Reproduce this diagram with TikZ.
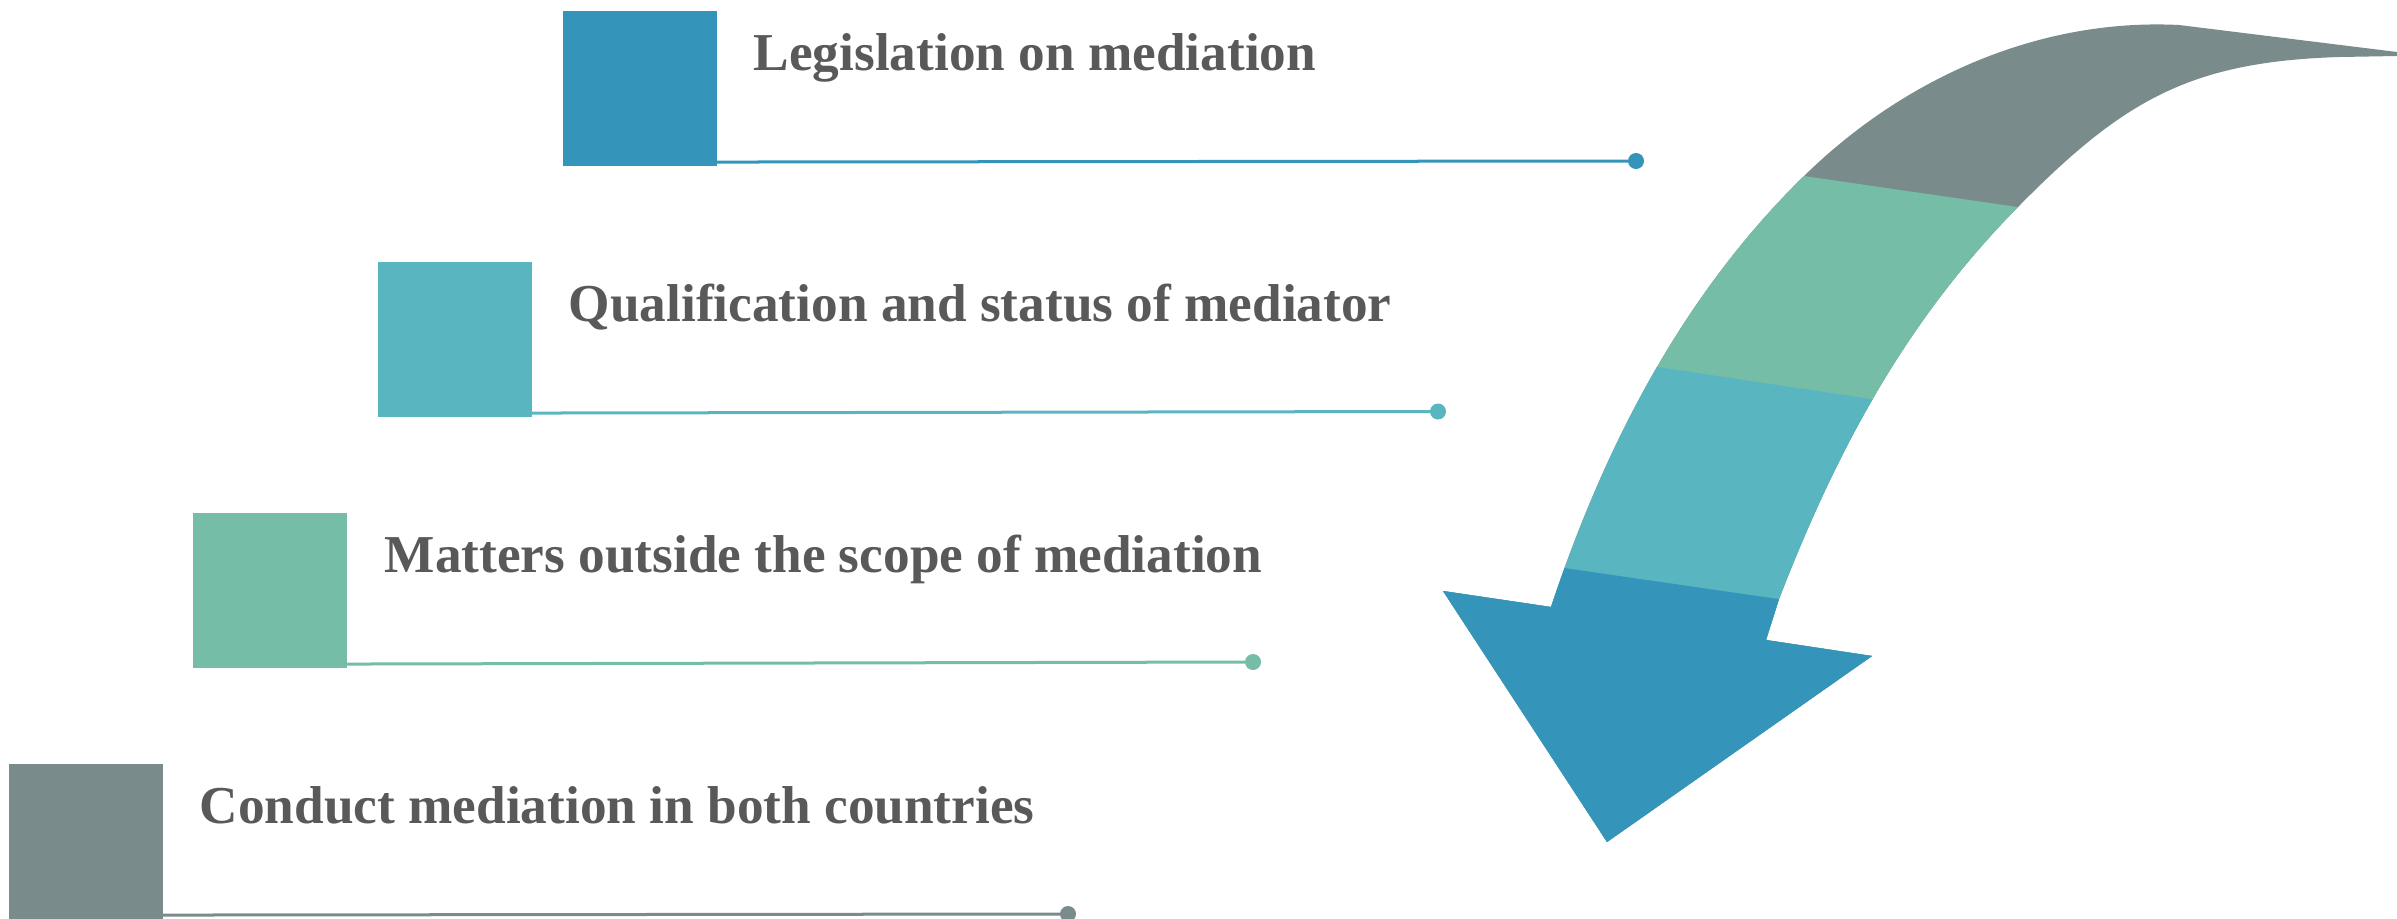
\documentclass[tikz,border=0pt]{standalone}
\usepackage{fontspec}
\setmainfont{Liberation Serif}
\usetikzlibrary{calc}
\definecolor{cblue}{HTML}{3594BA}
\definecolor{cteal}{HTML}{59B5C0}
\definecolor{cgreen}{HTML}{76BDA7}
\definecolor{cgray}{HTML}{7A8B8B}
\definecolor{ctext}{HTML}{595959}
\begin{document}
\begin{tikzpicture}[x=0.01cm,y=-0.01cm,
  sqbox/.style={minimum width=1.54cm, minimum height=1.55cm, inner sep=0pt, outer sep=0pt, draw=none, fill=#1},
  itemtext/.style={anchor=base west, inner sep=0pt, text=ctext, font=\fontsize{15.15}{18}\selectfont\bfseries},
  dotnode/.style={circle, fill=#1, inner sep=0pt, minimum size=0.16cm},
  conn/.style={draw=#1, line width=0.03cm}]
\useasboundingbox (0,0) rectangle (2397,918);

% items
\node[sqbox=cblue] (s1) at (640,88.5) {};
\node[itemtext] (t1) at ($(s1.north east)+(36,60)$) {Legislation on mediation};
\node[dotnode=cblue] (d1) at (1636,161) {};
\coordinate (a1) at ($(s1.south east)+(0,-4)$);
\draw[conn=cblue] (a1) -- (d1.center);

\node[sqbox=cteal] (s2) at (455,339.5) {};
\node[itemtext] (t2) at ($(s2.north east)+(36,60)$) {Qualification and status of mediator};
\node[dotnode=cteal] (d2) at (1438,411.5) {};
\coordinate (a2) at ($(s2.south east)+(0,-4)$);
\draw[conn=cteal] (a2) -- (d2.center);

\node[sqbox=cgreen] (s3) at (270,590.5) {};
\node[itemtext] (t3) at ($(s3.north east)+(37,60)$) {Matters outside the scope of mediation};
\node[dotnode=cgreen] (d3) at (1253,662) {};
\coordinate (a3) at ($(s3.south east)+(0,-4)$);
\draw[conn=cgreen] (a3) -- (d3.center);

\node[sqbox=cgray] (s4) at (86,841.5) {};
\node[itemtext] (t4) at ($(s4.north east)+(36,60)$) {Conduct mediation in both countries};
\node[dotnode=cgray] (d4) at (1068,914) {};
\coordinate (a4) at ($(s4.south east)+(0,-4)$);
\draw[conn=cgray] (a4) -- (d4.center);

% curved arrow
\begin{scope}
\clip (2397,52) -- (2179,25)
  .. controls (2039,18) and (1904,78) .. (1804,176)
  .. controls (1682.5,294.8) and (1604.7,445.7) .. (1551,607)
  -- (1443,591) -- (1607,842) -- (1872,656) -- (1766,640) -- (1779,599)
  .. controls (1836.6,450.2) and (1905.7,320.9) .. (2018,207)
  .. controls (2123.3,100.2) and (2190,61.5) .. (2340,57)
  -- (2397,56) -- cycle;
\fill[cgray] (1400,0) rectangle (2397,918);
\fill[cgreen] (1400,117.5) -- (2397,262) -- (2397,918) -- (1400,918) -- cycle;
\fill[cteal] (1400,328.4) -- (2397,478) -- (2397,918) -- (1400,918) -- cycle;
\fill[cblue] (1400,544.2) -- (2397,688.8) -- (2397,918) -- (1400,918) -- cycle;
\end{scope}
\end{tikzpicture}
\end{document}
